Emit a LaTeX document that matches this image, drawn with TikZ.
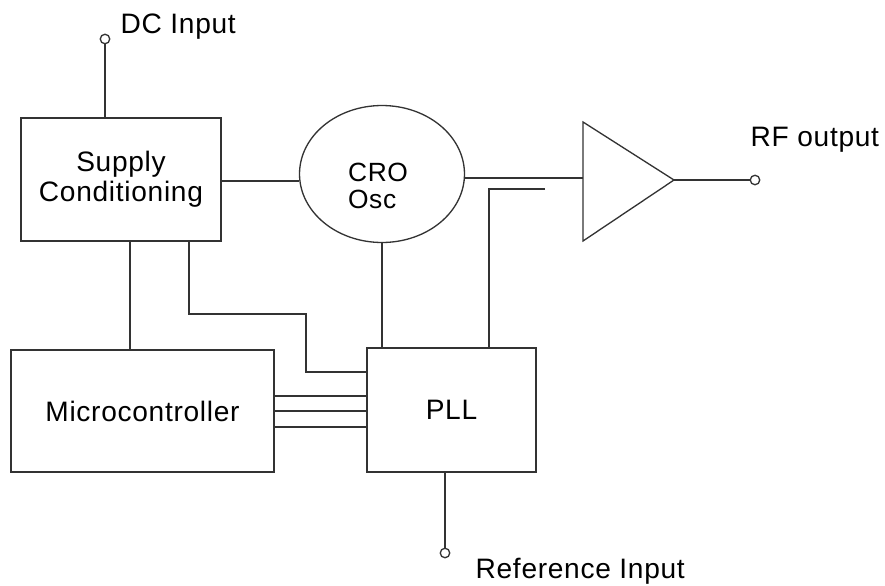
\documentclass[tikz,border=0pt]{standalone}
\usepackage{fontspec}
\setmainfont{Liberation Sans}[LetterSpace=2.5]
\usetikzlibrary{shapes.geometric}
\usetikzlibrary{calc}
\newcommand{\pin}[3] % name, x in px, y in px
{
	% small open terminal circle
	\node[term] (#1) at (#2,#3) {};
}
\newcommand{\busline}[1] % y in px
{
	\draw (micro.east |- 0,#1) -- (pll.west |- 0,#1);
}

\begin{document}
\begin{tikzpicture}[x=0.02cm, y=-0.02cm, line width=0.75pt, draw=black!80,
	every node/.style={font=\fontsize{16}{17}\selectfont},
	block/.style={draw=black!80, rectangle, inner sep=0pt},
	term/.style={draw=black!80, circle, fill=white, inner sep=0pt, minimum size=0.19cm},
	lbl/.style={inner sep=0pt}]
	% canvas 885px x 585px, 1px = 0.02cm
	\useasboundingbox (0,0) rectangle (885,585);
	
	% blocks
	\node[block, minimum width=4cm, minimum height=2.46cm, align=center] (supply) at (121,179.5) {Supply\\Conditioning};
	\node[draw=black!80, ellipse, inner sep=0pt, minimum width=3.3cm, minimum height=2.74cm] (osc) at (382,174) {};
	\node[lbl, align=left, font=\fontsize{15}{15.5}\selectfont] (osclbl) at (378,186) {CRO\\Osc};
	\node[block, minimum width=5.26cm, minimum height=2.44cm] (micro) at (142.5,411) {Microcontroller};
	\node[block, minimum width=3.38cm, minimum height=2.48cm] (pll) at (451.5,410) {PLL};
	
	% amplifier
	\draw (583,122) coordinate (amptop) -- (674,180) coordinate (ampout) -- (583,241) coordinate (ampbot) -- cycle;
	\coordinate (ampin) at (583,178);
	
	% terminals
	\pin{dcin}{105}{39}
	\pin{rfout}{755}{180}
	\pin{refin}{445}{553}
	\node[lbl, anchor=base west] (dclbl) at (120,33) {DC Input};
	\node[lbl, anchor=base west] (rflbl) at (750,146) {RF output};
	\node[lbl, anchor=base west] (reflbl) at (475,578) {Reference Input};
	
	% wiring
	\draw (dcin.south) -- (dcin.south |- supply.north);
	\draw (supply.east |- 0,181) -- (osc.west |- 0,181);
	\draw (osc.east |- ampin) -- (ampin);
	\draw (ampout) -- (rfout.west);
	\draw (osc.south) -- (osc.south |- pll.north);
	\coordinate (tap) at (545,189);
	\coordinate (fbend) at (489,189);
	\draw (tap) -- (fbend) -- (fbend |- pll.north);
	\draw (supply.south -| 130,0) -- (micro.north -| 130,0);
	\coordinate (jog) at (306,314);
	\draw (supply.south -| 189,0) |- (jog) |- (pll.west |- 0,372);
	\busline{396}
	\busline{411}
	\busline{427}
	\draw (pll.south -| refin) -- (refin.north);
\end{tikzpicture}
\end{document}
